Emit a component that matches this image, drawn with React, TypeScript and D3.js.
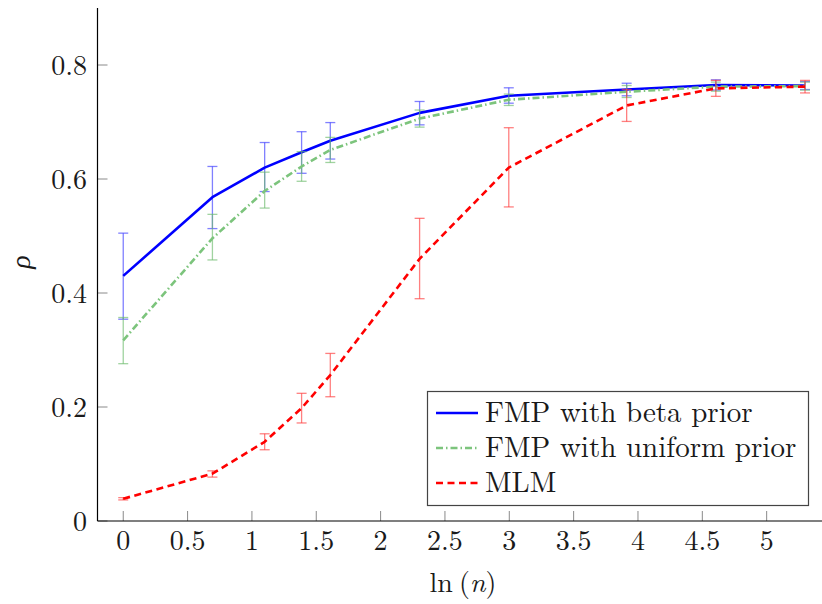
import React from "react";
import * as d3 from "d3";

const xVals = [0, 0.693, 1.099, 1.386, 1.609, 2.303, 2.996, 3.912, 4.605, 5.298];

const betaMean = [0.43, 0.568, 0.62, 0.647, 0.667, 0.716, 0.746, 0.757, 0.765, 0.764];
const betaLo = [0.354, 0.513, 0.578, 0.61, 0.635, 0.695, 0.733, 0.746, 0.756, 0.757];
const betaHi = [0.505, 0.622, 0.664, 0.683, 0.699, 0.736, 0.76, 0.768, 0.774, 0.771];

const unifMean = [0.317, 0.496, 0.579, 0.622, 0.651, 0.706, 0.739, 0.753, 0.762, 0.763];
const unifLo = [0.276, 0.458, 0.549, 0.596, 0.629, 0.691, 0.729, 0.743, 0.754, 0.756];
const unifHi = [0.357, 0.538, 0.612, 0.648, 0.673, 0.721, 0.749, 0.764, 0.77, 0.77];

const mlmMean = [0.039, 0.083, 0.139, 0.198, 0.256, 0.46, 0.62, 0.729, 0.759, 0.762];
const mlmLo = [0.037, 0.077, 0.125, 0.172, 0.218, 0.39, 0.551, 0.701, 0.745, 0.751];
const mlmHi = [0.041, 0.088, 0.153, 0.224, 0.294, 0.531, 0.69, 0.757, 0.773, 0.773];

const xTicks = [0, 0.5, 1, 1.5, 2, 2.5, 3, 3.5, 4, 4.5, 5];
const xTickLabels = ["0", "0.5", "1", "1.5", "2", "2.5", "3", "3.5", "4", "4.5", "5"];
const yTicks = [0, 0.2, 0.4, 0.6, 0.8];
const yTickLabels = ["0", "0.2", "0.4", "0.6", "0.8"];

const seriesNames = ["FMP with beta prior", "FMP with uniform prior", "MLM"];

const FONT = "'Latin Modern Roman', 'CMU Serif', 'Liberation Serif', serif";

export default function App() {
  const W = 822;
  const H = 604;
  const left = 97.5;
  const right = 822;
  const top = 8;
  const bottom = 521;
  const x = d3.scaleLinear().domain([-0.2, 5.43]).range([left, right]);
  const y = d3.scaleLinear().domain([0, 0.9]).range([bottom, top]);

  const series = [
    { name: seriesNames[0], mean: betaMean, lo: betaLo, hi: betaHi, color: "#0000ff", errColor: "#3c3cff", dash: undefined as string | undefined },
    { name: seriesNames[1], mean: unifMean, lo: unifLo, hi: unifHi, color: "#7cc47c", errColor: "#6dbb6d", dash: "7 3 1.5 3" },
    { name: seriesNames[2], mean: mlmMean, lo: mlmLo, hi: mlmHi, color: "#ff0000", errColor: "#ff3c3c", dash: "7 4.5" },
  ];

  const line = d3
    .line<number>()
    .x((_, i) => x(xVals[i]))
    .y((d) => y(d));

  const legX = 427.5;
  const legY = 391.5;
  const legW = 381;
  const legH = 114;
  const rowY = [413, 448, 483];

  return (
    <svg
      width={W}
      height={H}
      style={{ position: "absolute", left: 0, top: 0, background: "#fff" }}
      fontFamily={FONT}
    >
      <rect x={0} y={0} width={W} height={H} fill="#fff" />
      {xTicks.map((t) => (
        <line key={"xt" + t} x1={x(t)} x2={x(t)} y1={bottom} y2={bottom - 10} stroke="#8a8a8a" strokeWidth={1} />
      ))}
      {yTicks.map((t) => (
        <line key={"yt" + t} x1={left} x2={left + 10} y1={y(t)} y2={y(t)} stroke="#8a8a8a" strokeWidth={1} />
      ))}

      {series.map((s, si) => (
        <g key={si}>
          {s.mean.map((m, i) => {
            const cx = x(xVals[i]);
            return (
              <g key={i} stroke={s.errColor} strokeOpacity={0.65} strokeWidth={1.3} fill="none">
                <line x1={cx} x2={cx} y1={y(s.lo[i])} y2={y(s.hi[i])} />
                <line x1={cx - 5} x2={cx + 5} y1={y(s.lo[i])} y2={y(s.lo[i])} />
                <line x1={cx - 5} x2={cx + 5} y1={y(s.hi[i])} y2={y(s.hi[i])} />
              </g>
            );
          })}
          <path d={line(s.mean) || ""} fill="none" stroke={s.color} strokeWidth={2.6} strokeDasharray={s.dash} strokeLinejoin="round" />
        </g>
      ))}

      <line x1={left} x2={left} y1={top} y2={bottom} stroke="#000" strokeWidth={1.2} />
      <line x1={left} x2={right} y1={bottom} y2={bottom} stroke="#000" strokeWidth={1.2} />

      {xTicks.map((t, i) => (
        <text key={"xl" + t} x={x(t)} y={550} textAnchor="middle" fontSize={28} fill="#1a1a1a">
          {xTickLabels[i]}
        </text>
      ))}
      {yTicks.map((t, i) => (
        <text key={"yl" + t} x={87} y={y(t) + 9.5} textAnchor="end" fontSize={28} fill="#1a1a1a">
          {yTickLabels[i]}
        </text>
      ))}

      <text x={463} y={592} textAnchor="middle" fontSize={28} fill="#1a1a1a">
        ln
        <tspan dx={6}>(</tspan>
        <tspan fontStyle="italic">n</tspan>
        <tspan>)</tspan>
      </text>
      <text transform="translate(30,262) rotate(-90)" textAnchor="middle" fontSize={28} fontStyle="italic" fill="#1a1a1a">
        ρ
      </text>

      <rect x={legX} y={legY} width={legW} height={legH} fill="#fff" stroke="#444" strokeWidth={1.2} />
      {series.map((s, i) => (
        <g key={"lg" + i}>
          <line x1={436} x2={478} y1={rowY[i]} y2={rowY[i]} stroke={s.color} strokeWidth={2.6} strokeDasharray={s.dash} />
          <text x={485} y={rowY[i] + 9} fontSize={29} fill="#1a1a1a">
            {s.name}
          </text>
        </g>
      ))}
    </svg>
  );
}
